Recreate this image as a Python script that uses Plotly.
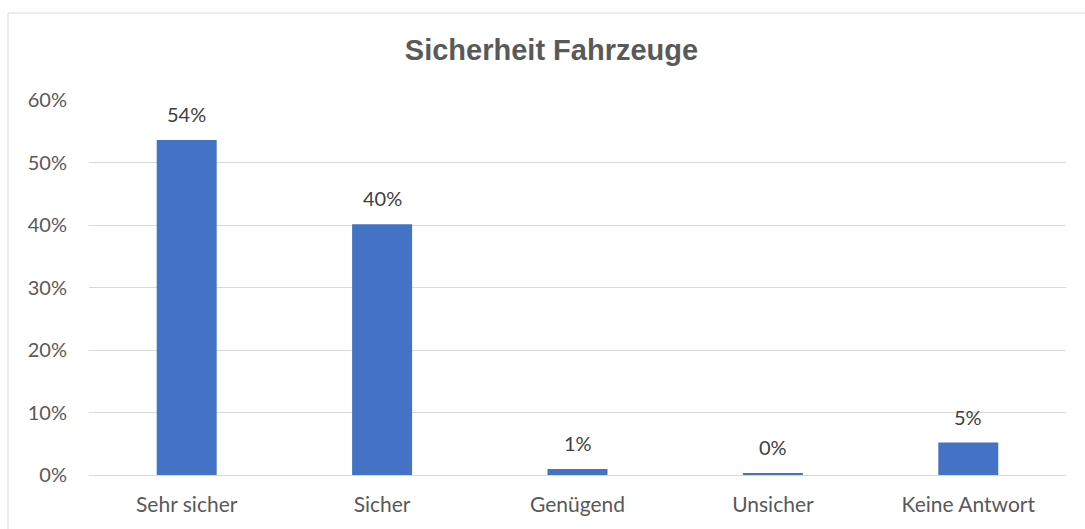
import plotly.graph_objects as go

categories = ["Sehr sicher", "Sicher", "Genügend", "Unsicher", "Keine Antwort"]
values = [0.536, 0.401, 0.0096, 0.0026, 0.052]
y_ticks = [0, 0.1, 0.2, 0.3, 0.4, 0.5, 0.6]
y_tick_labels = ["0%", "10%", "20%", "30%", "40%", "50%", "60%"]
title_text = "Sicherheit Fahrzeuge"

W, H = 1085, 529
L, R, T, B = 89, 19, 100, 54
pw, ph = W - L - R, H - T - B

fig = go.Figure()
fig.add_trace(go.Bar(
    x=categories, y=values,
    marker=dict(color="#4472C4", line=dict(width=0)),
    hoverinfo="skip",
))

for c, v in zip(categories, values):
    fig.add_annotation(
        x=c, y=v, xref="x", yref="y",
        text=f"{round(v * 100):.0f}%",
        showarrow=False, yanchor="middle", yshift=26,
        font=dict(family="Lato", size=20, color="#404040"),
    )

fig.add_shape(
    type="rect", xref="paper", yref="paper",
    x0=(8 - L) / pw, x1=(W + 20 - L) / pw,
    y0=-(B + 20) / ph, y1=(H - B - 13) / ph,
    line=dict(color="#D9D9D9", width=1),
    fillcolor="rgba(0,0,0,0)", layer="below",
)

fig.update_layout(
    width=W, height=H,
    margin=dict(l=L, r=R, t=T, b=B, pad=0),
    paper_bgcolor="white", plot_bgcolor="white",
    bargap=0.693,
    showlegend=False,
    title=dict(
        text=title_text, x=551.5 / W, xref="container", xanchor="center",
        y=1 - 50 / H, yref="container", yanchor="middle",
        font=dict(family="Liberation Sans", size=29, color="#595959", weight="bold"),
    ),
    xaxis=dict(
        showgrid=False, showline=False, zeroline=False, ticks="",
        tickfont=dict(family="Lato", size=21, color="#595959"),
        ticklabelstandoff=15,
    ),
    yaxis=dict(
        range=[0, 0.6], tickvals=y_ticks, ticktext=y_tick_labels,
        showgrid=True, gridcolor="#D9D9D9", gridwidth=1,
        zeroline=True, zerolinecolor="#D9D9D9", zerolinewidth=1,
        showline=False, ticks="",
        tickfont=dict(family="Lato", size=20, color="#595959"),
        ticklabelstandoff=21,
    ),
)

fig.write_html(
    "out.html",
    config={"displayModeBar": False},
    post_script="document.body.style.margin='0px';document.body.style.overflow='hidden';",
)
